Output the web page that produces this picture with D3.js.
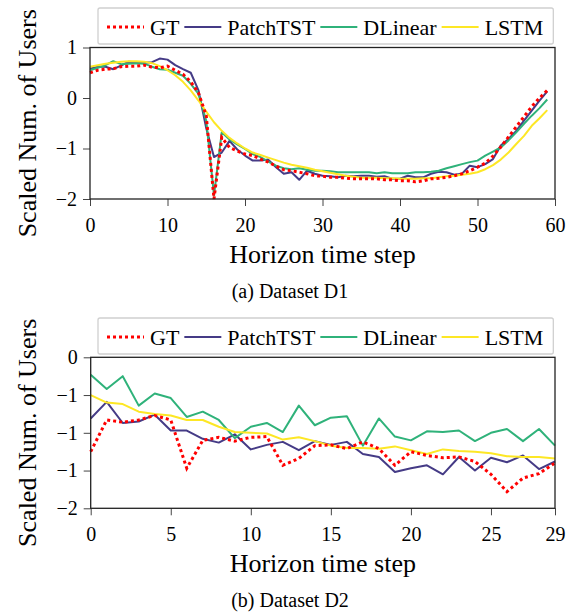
<!DOCTYPE html>
<html lang="en">
<head>
<meta charset="UTF-8" />
<title>Forecast comparison</title>
<script src="https://d3js.org/d3.v7.min.js"></script>
<style>
  body { margin: 0; background: #fff; }
  text { font-family: "Liberation Serif", "DejaVu Serif", serif; fill: #000; }
</style>
</head>
<body>
<svg width="580" height="614"></svg>
<script>
// series names + colours (legend order)
const seriesNames = ["GT", "PatchTST", "DLinear", "LSTM"];
const seriesColors = ["#ff0000", "#453b86", "#2fb27a", "#fde725"];

// Dataset D1, horizon 0..59
const d1Steps = d3.range(0, 60);
const d1GT = [0.50, 0.55, 0.57, 0.58, 0.62, 0.63, 0.63, 0.65, 0.61, 0.60,
  0.63, 0.55, 0.47, 0.32, 0.10, -0.35, -2.00, -0.78, -0.98, -1.05,
  -1.11, -1.14, -1.21, -1.27, -1.35, -1.42, -1.44, -1.47, -1.50, -1.54,
  -1.55, -1.57, -1.57, -1.59, -1.60, -1.60, -1.60, -1.60, -1.62, -1.62,
  -1.64, -1.64, -1.66, -1.64, -1.60, -1.59, -1.57, -1.54, -1.50, -1.44,
  -1.37, -1.29, -1.15, -0.97, -0.77, -0.57, -0.37, -0.17, 0.00, 0.15];
const d1Patch = [0.58, 0.62, 0.62, 0.57, 0.64, 0.72, 0.71, 0.70, 0.71, 0.78,
  0.76, 0.65, 0.57, 0.50, 0.15, -0.60, -1.17, -1.08, -0.85, -1.02,
  -1.14, -1.24, -1.24, -1.22, -1.37, -1.50, -1.47, -1.62, -1.44, -1.50,
  -1.54, -1.55, -1.57, -1.54, -1.55, -1.54, -1.54, -1.56, -1.55, -1.60,
  -1.60, -1.54, -1.57, -1.57, -1.50, -1.46, -1.47, -1.52, -1.50, -1.34,
  -1.37, -1.31, -1.21, -0.94, -0.81, -0.65, -0.45, -0.25, -0.05, 0.13];
const d1DLinear = [0.55, 0.60, 0.65, 0.73, 0.67, 0.68, 0.69, 0.68, 0.62, 0.57,
  0.56, 0.50, 0.44, 0.28, 0.08, -0.45, -1.93, -0.68, -0.82, -0.92,
  -1.01, -1.11, -1.17, -1.26, -1.34, -1.39, -1.41, -1.39, -1.42, -1.44,
  -1.44, -1.45, -1.47, -1.47, -1.47, -1.47, -1.47, -1.49, -1.47, -1.49,
  -1.49, -1.49, -1.47, -1.47, -1.46, -1.44, -1.39, -1.35, -1.31, -1.27,
  -1.24, -1.14, -1.06, -0.98, -0.84, -0.68, -0.51, -0.35, -0.20, -0.03];
const d1LSTM = [0.62, 0.65, 0.68, 0.70, 0.72, 0.73, 0.73, 0.72, 0.69, 0.63,
  0.55, 0.45, 0.32, 0.15, -0.05, -0.27, -0.48, -0.65, -0.79, -0.90,
  -1.00, -1.08, -1.13, -1.18, -1.23, -1.28, -1.32, -1.35, -1.38, -1.42,
  -1.45, -1.48, -1.51, -1.54, -1.56, -1.58, -1.58, -1.58, -1.59, -1.59,
  -1.60, -1.60, -1.60, -1.59, -1.59, -1.57, -1.55, -1.54, -1.52, -1.50,
  -1.47, -1.41, -1.33, -1.22, -1.08, -0.91, -0.75, -0.55, -0.40, -0.24];

// Dataset D2, horizon 0..29
const d2Steps = d3.range(0, 30);
const d2GT = [-1.25, -0.83, -0.86, -0.83, -0.77, -0.83, -1.47, -1.10, -1.06, -1.11,
  -1.06, -1.05, -1.43, -1.34, -1.17, -1.16, -1.21, -1.12, -1.21, -1.43,
  -1.25, -1.30, -1.33, -1.32, -1.38, -1.55, -1.78, -1.60, -1.54, -1.40];
const d2Patch = [-0.81, -0.59, -0.87, -0.85, -0.76, -0.97, -0.97, -1.08, -1.13, -1.02,
  -1.22, -1.16, -1.12, -1.23, -1.11, -1.16, -1.12, -1.28, -1.32, -1.52,
  -1.47, -1.43, -1.55, -1.32, -1.50, -1.33, -1.39, -1.30, -1.48, -1.38];
const d2DLinear = [-0.23, -0.42, -0.25, -0.64, -0.48, -0.54, -0.79, -0.72, -0.83, -1.07,
  -0.92, -0.87, -0.99, -0.64, -0.90, -0.80, -0.78, -1.17, -0.81, -1.05,
  -1.10, -0.98, -0.99, -0.97, -1.11, -1.00, -0.95, -1.11, -0.95, -1.17];
const d2LSTM = [-0.50, -0.60, -0.62, -0.72, -0.75, -0.77, -0.83, -0.83, -0.92, -0.99,
  -1.00, -1.01, -1.09, -1.06, -1.11, -1.17, -1.20, -1.20, -1.21, -1.18,
  -1.23, -1.28, -1.22, -1.24, -1.25, -1.27, -1.31, -1.32, -1.32, -1.34];

// ticks
const d1XTicks = [0, 10, 20, 30, 40, 50, 60];
const d1YTicks = [1, 0, -1, -2];
const d1YLabels = ["1", "0", "\u22121", "\u22122"];
const d2XTicks = [0, 5, 10, 15, 20, 25, 29];
const d2YTicks = [0, -0.5, -1, -1.5, -2];
const d2YLabels = ["0", "\u22121", "\u22121", "\u22121", "\u22122"];

const svg = d3.select("svg");

function drawPanel(opt) {
  const x = d3.scaleLinear().domain(opt.xDomain).range([opt.left, opt.right]);
  const y = d3.scaleLinear().domain(opt.yDomain).range([opt.bottom, opt.top]);

  // axes (ticks outward)
  const xAxis = svg.append("g")
    .attr("transform", `translate(0,${opt.bottom})`)
    .call(d3.axisBottom(x).tickValues(opt.xTicks).tickSize(7).tickPadding(12)
      .tickFormat(d3.format("d")));
  const yAxis = svg.append("g")
    .attr("transform", `translate(${opt.left},0)`)
    .call(d3.axisLeft(y).tickValues(opt.yTicks).tickSize(7).tickPadding(6)
      .tickFormat((d, i) => opt.yLabels[i]));
  [xAxis, yAxis].forEach(a => {
    a.select(".domain").remove();
    a.selectAll("line").attr("stroke", "#444");
    a.selectAll("text").style("font-size", "20px")
      .style("font-family", '"Liberation Serif", serif');
  });

  const line = d3.line().x((d, i) => x(opt.steps[i])).y(d => y(d));
  opt.series.forEach((vals, k) => {
    if (k === 0) return;
    svg.append("path")
      .datum(vals)
      .attr("fill", "none")
      .attr("stroke", seriesColors[k])
      .attr("stroke-width", 2)
      .attr("stroke-linejoin", "round")
      .attr("d", line);
  });
  // GT on top
  svg.append("path")
    .datum(opt.series[0])
    .attr("fill", "none")
    .attr("stroke", seriesColors[0])
    .attr("stroke-width", 3)
    .attr("stroke-dasharray", "3,3")
    .attr("d", line);

  // frame
  svg.append("rect")
    .attr("x", opt.left).attr("y", opt.top)
    .attr("width", opt.right - opt.left).attr("height", opt.bottom - opt.top)
    .attr("fill", "none").attr("stroke", "#222").attr("stroke-width", 1.3);

  // titles
  svg.append("text")
    .attr("x", (opt.left + opt.right) / 2).attr("y", opt.bottom + 64)
    .attr("text-anchor", "middle").style("font-size", "26px")
    .text("Horizon time step");
  svg.append("text")
    .attr("transform", `translate(36,${(opt.top + opt.bottom) / 2}) rotate(-90)`)
    .attr("text-anchor", "middle").style("font-size", "26px")
    .text("Scaled Num. of Users");
  svg.append("text")
    .attr("x", 290).attr("y", opt.bottom + 99)
    .attr("text-anchor", "middle").style("font-size", "20px")
    .text(opt.caption);

  // legend
  const lg = svg.append("g");
  const box = lg.append("rect")
    .attr("x", 98).attr("y", opt.legendY).attr("height", 36).attr("rx", 2)
    .attr("fill", "#fff").attr("stroke", "#d0d0d0").attr("stroke-width", 1.3);
  let cx = 107;
  const cy = opt.legendY + 19;
  seriesNames.forEach((name, k) => {
    lg.append("line")
      .attr("x1", cx).attr("x2", cx + 37).attr("y1", cy).attr("y2", cy)
      .attr("stroke", seriesColors[k])
      .attr("stroke-width", k === 0 ? 3 : 2)
      .attr("stroke-dasharray", k === 0 ? "3,3" : null);
    const t = lg.append("text")
      .attr("x", cx + 43).attr("y", cy).attr("dy", "0.35em")
      .style("font-size", "22px").text(name);
    cx += 43 + t.node().getComputedTextLength() + 5;
  });
  box.attr("width", cx + 5 - 98);
}

drawPanel({
  steps: d1Steps, series: [d1GT, d1Patch, d1DLinear, d1LSTM],
  xDomain: [0, 60], yDomain: [-2, 1],
  xTicks: d1XTicks, yTicks: d1YTicks, yLabels: d1YLabels,
  left: 90, right: 555, top: 47.5, bottom: 199,
  legendY: 8, caption: "(a) Dataset D1"
});

drawPanel({
  steps: d2Steps, series: [d2GT, d2Patch, d2DLinear, d2LSTM],
  xDomain: [0, 29], yDomain: [-2, 0],
  xTicks: d2XTicks, yTicks: d2YTicks, yLabels: d2YLabels,
  left: 90.7, right: 555, top: 357.3, bottom: 508.3,
  legendY: 318, caption: "(b) Dataset D2"
});
</script>
</body>
</html>
